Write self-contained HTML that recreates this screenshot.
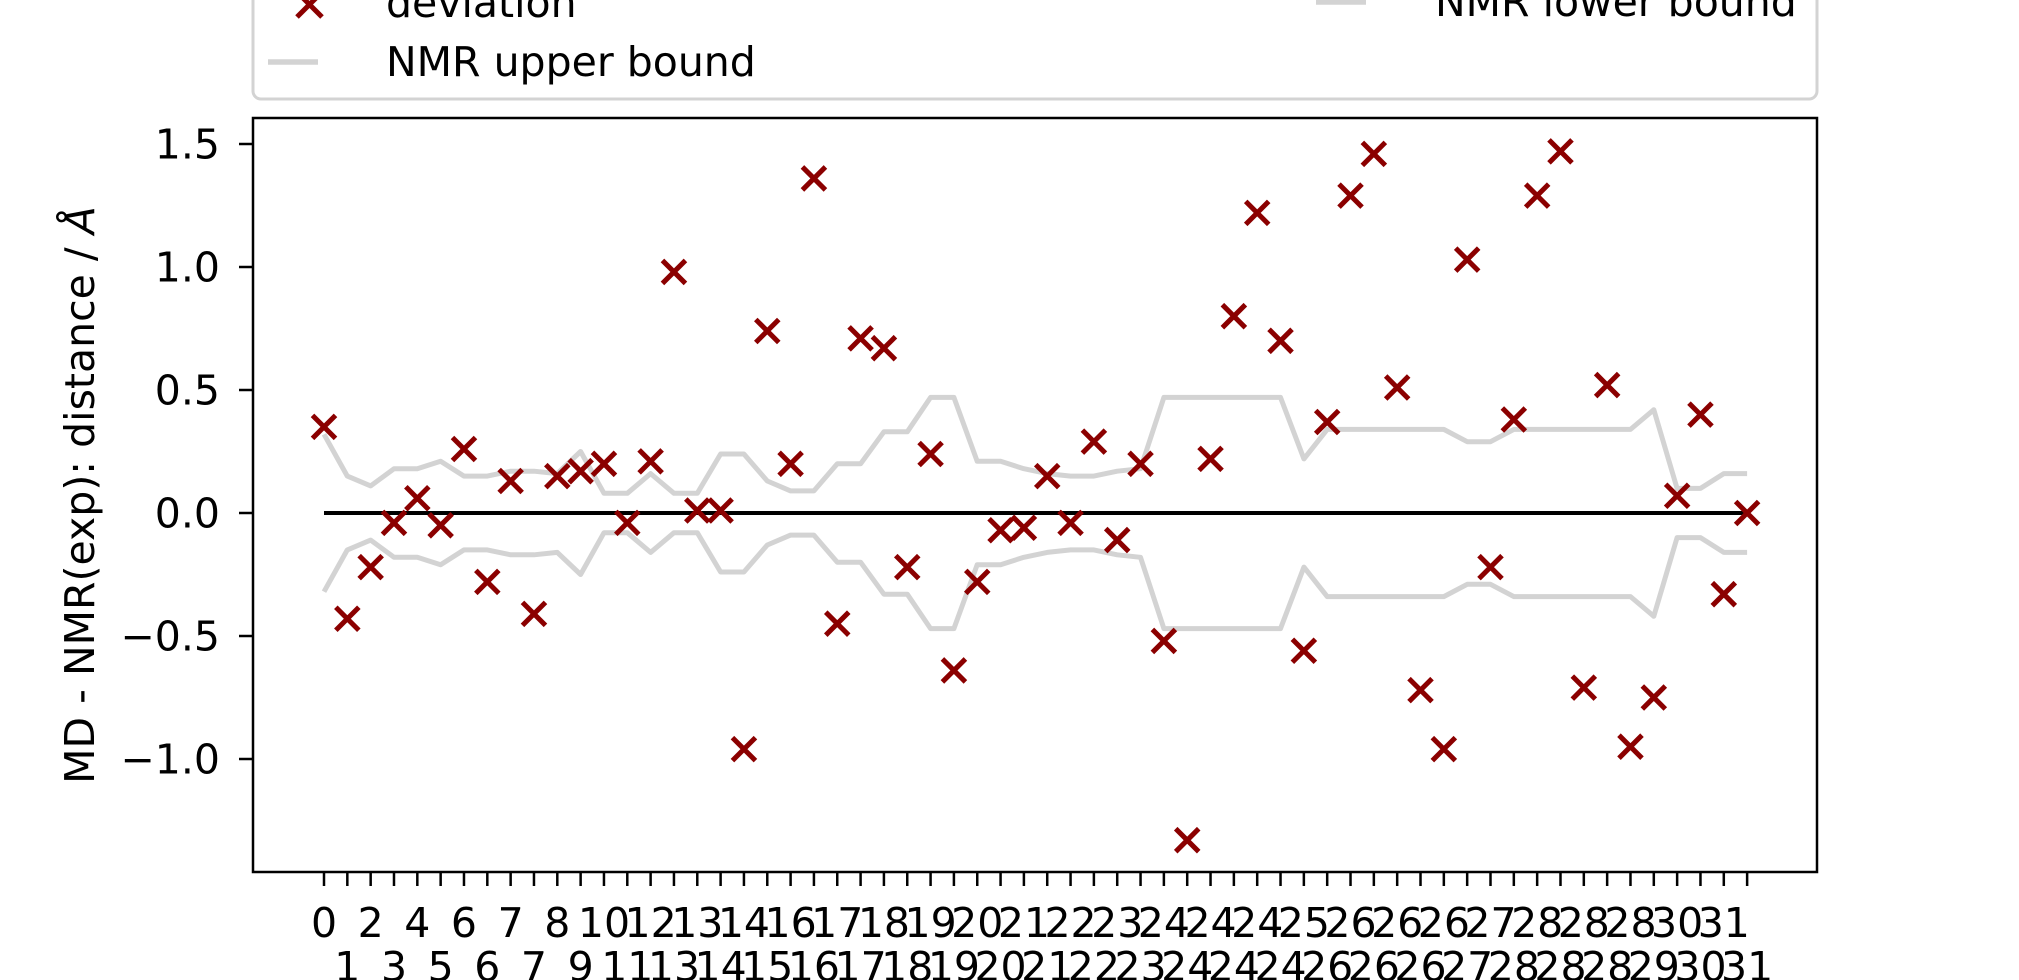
<!DOCTYPE html>
<html><head><meta charset="utf-8"><style>
html,body{margin:0;padding:0;background:#fff;}
svg{display:block;font-family:"DejaVu Sans","Liberation Sans",sans-serif;}
</style></head><body>
<svg id="chart" width="2019" height="980" viewBox="0 0 2019 980" xmlns="http://www.w3.org/2000/svg">
  <rect x="0" y="0" width="2019" height="980" fill="#fff"/>
  <g id="legend">
    <rect x="253" y="-40" width="1564" height="139" rx="8" fill="#fff" stroke="#d3d3d3" stroke-width="3"/>
    <g>
      <path d="M297,-8 L322,17 M297,17 L322,-8" stroke="#8b0000" stroke-width="5"/>
      <text x="386" y="17" font-size="41" fill="#000">deviation</text>
    </g>
    <g>
      <line x1="268" y1="62" x2="318" y2="62" stroke="#d3d3d3" stroke-width="5.5"/>
      <text x="386" y="76" font-size="41" fill="#000">NMR upper bound</text>
    </g>
    <g>
      <line x1="1316" y1="2" x2="1366" y2="2" stroke="#d3d3d3" stroke-width="5.5"/>
      <text x="1435" y="16" font-size="41" fill="#000">NMR lower bound</text>
    </g>
  </g>
  <g id="plot"></g>
  <rect x="253" y="118" width="1564" height="754" fill="none" stroke="#000" stroke-width="2.5"/>
  <g id="yaxis"></g>
  <g id="xaxis"></g>
  <text transform="translate(94,495) rotate(-90)" text-anchor="middle" font-size="41" fill="#000">MD - NMR(exp): distance / <tspan font-style="italic">Å</tspan></text>
</svg>
<script>
const xLabels = ["0","1","2","3","4","5","6","6","7","7","8","9","10","11","12","13","13","14","14","15","16","16","17","17","18","18","19","19","20","20","21","21","22","22","23","23","24","24","24","24","24","24","25","26","26","26","26","26","26","27","27","28","28","28","28","28","28","29","30","30","31","31"];
const deviation = [0.35,-0.43,-0.22,-0.04,0.06,-0.05,0.26,-0.28,0.13,-0.41,0.15,0.17,0.20,-0.04,0.21,0.98,0.01,0.01,-0.96,0.74,0.20,1.36,-0.45,0.71,0.67,-0.22,0.24,-0.64,-0.28,-0.07,-0.06,0.15,-0.04,0.29,-0.11,0.20,-0.52,-1.33,0.22,0.80,1.22,0.70,-0.56,0.37,1.29,1.46,0.51,-0.72,-0.96,1.03,-0.22,0.38,1.29,1.47,-0.71,0.52,-0.95,-0.75,0.07,0.40,-0.33,0.00];
const upperBound = [0.32,0.15,0.11,0.18,0.18,0.21,0.15,0.15,0.17,0.17,0.16,0.25,0.08,0.08,0.16,0.08,0.08,0.24,0.24,0.13,0.09,0.09,0.20,0.20,0.33,0.33,0.47,0.47,0.21,0.21,0.18,0.16,0.15,0.15,0.17,0.18,0.47,0.47,0.47,0.47,0.47,0.47,0.22,0.34,0.34,0.34,0.34,0.34,0.34,0.29,0.29,0.34,0.34,0.34,0.34,0.34,0.34,0.42,0.10,0.10,0.16,0.16];
const lowerBound = upperBound.map(v => -v);
const yTicks = [-1.0,-0.5,0.0,0.5,1.0,1.5];
const yTickLabels = ["\u22121.0","\u22120.5","0.0","0.5","1.0","1.5"];

const NS = "http://www.w3.org/2000/svg";
const X0 = 324, DX = 23.33;
function xs(i){ return X0 + DX*i; }
function ys(v){ return 513 - 246*v; }
function mk(tag, attrs, parent){ const e=document.createElementNS(NS,tag); for(const k in attrs) e.setAttribute(k,attrs[k]); parent.appendChild(e); return e; }

const plot = document.getElementById('plot');
function pathFor(arr){ return arr.map((v,i)=>(i?'L':'M')+xs(i).toFixed(1)+','+ys(v).toFixed(1)).join(' '); }
const up = mk('path',{d:pathFor(upperBound),fill:'none',stroke:'#d3d3d3','stroke-width':5,'stroke-linejoin':'round'},plot);


const lo = mk('path',{d:pathFor(lowerBound),fill:'none',stroke:'#d3d3d3','stroke-width':5,'stroke-linejoin':'round'},plot);


const zl = mk('line',{x1:xs(0),x2:xs(deviation.length-1),y1:ys(0),y2:ys(0),stroke:'#000','stroke-width':4},plot);


deviation.forEach((v,i)=>{
  const cx=xs(i), cy=ys(v), h=11.5;
  const p = mk('path',{d:`M${cx-h},${cy-h} L${cx+h},${cy+h} M${cx-h},${cy+h} L${cx+h},${cy-h}`,stroke:'#8b0000','stroke-width':5},plot);
  
  
});

const ya = document.getElementById('yaxis');
yTicks.forEach((t,k)=>{
  const y=ys(t);
  const l = mk('line',{x1:239,x2:253,y1:y,y2:y,stroke:'#000','stroke-width':2.5},ya);
  
  
  const tx = mk('text',{x:220,y:y+14.5,'text-anchor':'end','font-size':41,fill:'#000'},ya);
  tx.textContent = yTickLabels[k];
  
  
});

const xa = document.getElementById('xaxis');
xLabels.forEach((lab,i)=>{
  const x=xs(i);
  const l = mk('line',{x1:x,x2:x,y1:872,y2:886,stroke:'#000','stroke-width':2.5},xa);
  
  
  const tx = mk('text',{x:x,y:(i%2===0)?937:981,'text-anchor':'middle','font-size':41,fill:'#000'},xa);
  tx.textContent = lab;
  
  
});
</script>
</body></html>
